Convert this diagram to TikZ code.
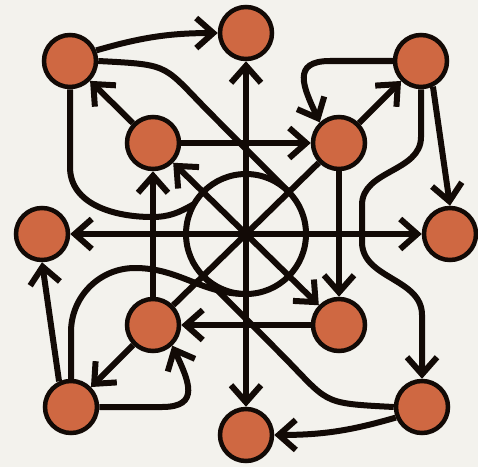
\documentclass[tikz,border=0pt]{standalone}
\usetikzlibrary{arrows.meta}
\definecolor{paper}{RGB}{243,242,237}
\definecolor{rust}{RGB}{207,104,66}
\definecolor{ink}{RGB}{18,10,6}
\begin{document}
\begin{tikzpicture}[x=1pt,y=1pt,
    dot/.style={circle,draw=ink,fill=rust,line width=4.5pt,minimum size=52pt,inner sep=0pt},
    ring/.style={circle,draw=ink,line width=6pt,minimum size=120pt,inner sep=0pt,outer sep=0pt},
    wire/.style={draw=ink,line width=6pt},
    arr/.style={wire,-{Straight Barb[length=17pt,width=30pt]}}]
    \useasboundingbox [fill=paper] (0,0) rectangle (478,467);
    % hub
    \node [ring] (hub) at (246,233) {};
    % outer nodes
    \node [dot] (N) at (246,434) {};
    \node [dot] (S) at (246,32) {};
    \node [dot] (W) at (42,233) {};
    \node [dot] (E) at (450,233) {};
    \node [dot] (TL) at (70,406) {};
    \node [dot] (TR) at (421,406) {};
    \node [dot] (BL) at (71,60) {};
    \node [dot] (BR) at (422,60) {};
    % inner square
    \node [dot] (iTL) at (153,324) {};
    \node [dot] (iTR) at (339,324) {};
    \node [dot] (iBL) at (153,142) {};
    \node [dot] (iBR) at (339,142) {};
    % star from the hub
    \foreach \t in {N,S,W,E,iTL,iBR}
        \draw [arr] (hub.center) -- (\t);
    \draw [wire] (iBL) -- (iTR);
    % inner square
    \draw [arr] (iTL) -- (iTR);
    \draw [arr] (iTR) -- (iBR);
    \draw [arr] (iBR) -- (iBL);
    \draw [arr] (iBL) -- (iTL);
    \foreach \a in {TL,TR,BL}
        \draw [arr] (i\a) -- (\a);
    % corners to sides
    \draw [arr] (TL.22) to[bend left=8] (N.west);
    \draw [arr] (BR.202) to[bend left=8] (S.east);
    \draw [arr] (TR.-65) -- (E.north);
    \draw [arr] (BL.115) -- (W.south);
    % loops
    \draw [arr] (TR.west) -- (330,406) to[out=180,in=115,looseness=1.6] (iTR.133);
    \draw [arr] (BL.east) -- (162,60) to[out=0,in=-65,looseness=1.6] (iBL.-47);
    % long curves
    \draw [arr] (TR.south) -- (421,330) to[out=-90,in=90] (362,262) -- (362,225)
        to[out=-90,in=90] (422,152) -- (BR.north);
    \draw [wire] (TL.east) to[out=-3,in=135,looseness=1.5] (215,349) -- (hub.45);
    \draw [wire] (BR.west) to[out=177,in=-45,looseness=1.5] (277,117) -- (hub.225);
    \draw [wire] (TL.south) -- (70,300) to[out=-90,in=180] (152,250) to[out=0,in=210] (hub.150);
    \draw [wire] (BL.north) -- (71,135) to[out=90,in=180] (135,199) to[out=0,in=180] (hub.south);
\end{tikzpicture}
\end{document}
